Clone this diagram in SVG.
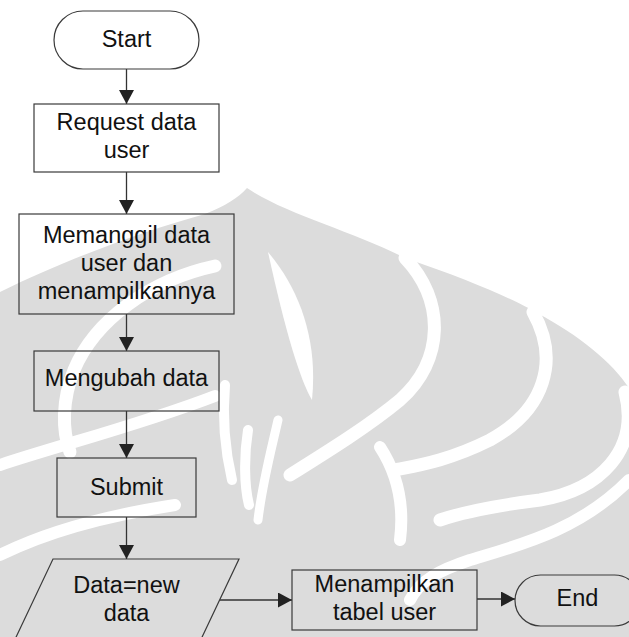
<svg xmlns="http://www.w3.org/2000/svg" width="629" height="637" viewBox="0 0 629 637">
  <style>
    .node { fill: none; stroke: #3a3a3a; stroke-width: 1.2; }
    .label { font-family: "Liberation Sans", Arial, sans-serif; font-size: 23.5px; fill: #111; text-anchor: middle; }
    .edge { stroke: #333; stroke-width: 1.3; fill: none; marker-end: url(#head); }
    .wm { fill: #dcdcdc; }
    .wm-cut { fill: none; stroke: #ffffff; stroke-linecap: round; }
    .wm-hole { fill: #ffffff; }
  </style>
  <defs>
    <marker id="head" markerWidth="15" markerHeight="15" viewBox="0 0 14 15" refX="14" refY="7.5" orient="auto" markerUnits="userSpaceOnUse">
      <path d="M0,0 L14,7.5 L0,15 Z" fill="#222"/>
    </marker>
  </defs>

  <rect width="629" height="637" fill="#ffffff"/>

  <!-- background emblem: light grey silhouette split by white bands -->
  <g id="emblem">
    <path class="wm" d="M0,292 C60,262 140,232 205,214 C225,206 238,198 247,188 C285,214 355,232 405,258 C470,280 515,300 537,313 C580,336 612,362 629,388 L629,637 L0,637 Z"/>
    <!-- right-hand petals -->
    <path class="wm-cut" stroke-width="13" d="M405,258 C445,300 445,360 400,400 C370,425 330,450 290,475"/>
    <path class="wm-cut" stroke-width="13" d="M533,312 C560,360 545,410 490,440 C450,460 420,465 395,470"/>
    <path class="wm-cut" stroke-width="13" d="M625,392 C640,450 600,490 540,500 C500,505 470,510 440,520"/>
    <path class="wm-cut" stroke-width="12" d="M629,480 C580,530 520,545 470,560 C440,570 420,580 410,600"/>
    <path class="wm-cut" stroke-width="12" d="M380,447 C395,470 405,500 400,540"/>
    <!-- central stem -->
    <path class="wm-hole" d="M268,252 C300,290 318,340 312,400 C300,380 285,330 268,252 Z"/>
    <path class="wm-cut" stroke-width="10" d="M248,430 C244,455 244,485 249,505"/>
    <path class="wm-cut" stroke-width="10" d="M225,385 C222,420 225,450 232,480"/>
    <path class="wm-cut" stroke-width="9" d="M278,420 C270,455 262,485 258,520"/>
    <!-- left-hand petals -->
    <path class="wm-cut" stroke-width="13" d="M215,266 C150,280 95,320 74,370 C62,400 62,430 70,452"/>
    <path class="wm-cut" stroke-width="12" d="M0,465 C60,445 140,425 215,396"/>
    <path class="wm-cut" stroke-width="12" d="M0,555 C50,530 110,515 175,505"/>
  </g>

  <g id="connectors">
    <line class="edge" x1="126.5" y1="69" x2="126.5" y2="104"/>
    <line class="edge" x1="126.5" y1="172" x2="126.5" y2="214"/>
    <line class="edge" x1="126.5" y1="314" x2="126.5" y2="351"/>
    <line class="edge" x1="126.5" y1="411" x2="126.5" y2="458"/>
    <line class="edge" x1="126.5" y1="517" x2="126.5" y2="559"/>
    <line class="edge" x1="220" y1="600" x2="292" y2="600"/>
    <line class="edge" x1="477" y1="599" x2="515" y2="599"/>
  </g>

  <g id="start">
    <rect class="node" x="54" y="11" width="145" height="58" rx="29" ry="29"/>
    <text class="label" x="126.5" y="47">Start</text>
  </g>

  <g id="request">
    <rect class="node" x="34" y="104" width="185" height="68"/>
    <text class="label" x="126.5" y="130">Request data</text>
    <text class="label" x="126.5" y="158">user</text>
  </g>

  <g id="load">
    <rect class="node" x="19" y="214" width="215" height="100"/>
    <text class="label" x="126.5" y="243">Memanggil data</text>
    <text class="label" x="126.5" y="271">user dan</text>
    <text class="label" x="126.5" y="299">menampilkannya</text>
  </g>

  <g id="edit">
    <rect class="node" x="34" y="351" width="185" height="60"/>
    <text class="label" x="126.5" y="386">Mengubah data</text>
  </g>

  <g id="submit">
    <rect class="node" x="57" y="458" width="139" height="59"/>
    <text class="label" x="126.5" y="495">Submit</text>
  </g>

  <g id="newdata">
    <polygon class="node" points="53,559 239,559 195,652 9,652"/>
    <text class="label" x="126.5" y="593">Data=new</text>
    <text class="label" x="126.5" y="621">data</text>
  </g>

  <g id="show">
    <rect class="node" x="292" y="570" width="185" height="60"/>
    <text class="label" x="384.5" y="592">Menampilkan</text>
    <text class="label" x="384.5" y="620">tabel user</text>
  </g>

  <g id="end">
    <rect class="node" x="515" y="575" width="125" height="51" rx="25.5" ry="25.5"/>
    <text class="label" x="577.5" y="606">End</text>
  </g>
</svg>
